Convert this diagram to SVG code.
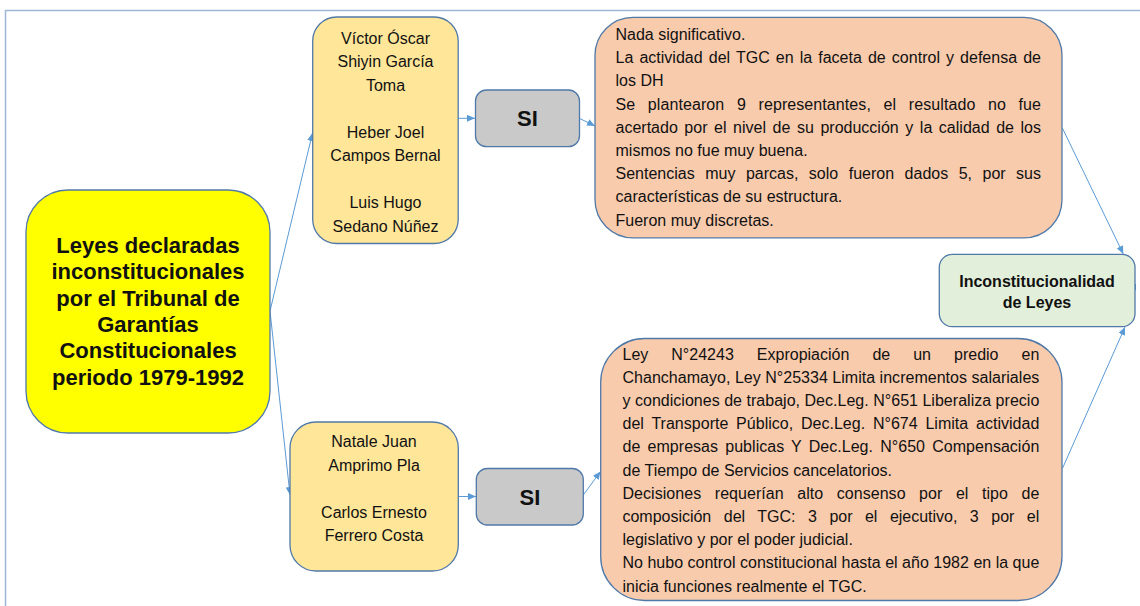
<svg xmlns="http://www.w3.org/2000/svg" width="1140" height="606" viewBox="0 0 1140 606">
<style>
.frame{fill:none;stroke:#9bb7d4;stroke-width:1.5}
.box{stroke:#5079a8;stroke-width:1.3}
.yellow{fill:#ffff00}
.gold{fill:#ffe699}
.grey{fill:#c9c9c9}
.peach{fill:#f8cbad}
.green{fill:#e2efda}
.t{font-family:"Liberation Sans",Arial,sans-serif;font-size:16px;fill:#111}
.c{text-anchor:middle}
.b{font-weight:bold}
.big{font-size:22px}
.conn{fill:none;stroke:#5b9bd5;stroke-width:1}
</style>
<defs>
<marker id="arr" markerUnits="userSpaceOnUse" markerWidth="8" markerHeight="7" refX="8" refY="3.5" orient="auto">
<path d="M0,0 L8,3.5 L0,7 z" fill="#5b9bd5"/>
</marker>
</defs>
<rect width="1140" height="606" fill="#ffffff"/>
<path class="frame" d="M5.5,606 L5.5,10.5 L1140,10.5"/>

<g id="connectors">
<path class="conn" marker-end="url(#arr)" d="M270,311 L312.5,133"/>
<path class="conn" marker-end="url(#arr)" d="M270,311 L290,495"/>
<path class="conn" marker-end="url(#arr)" d="M458,118.3 L475,118.3"/>
<path class="conn" marker-end="url(#arr)" d="M579.3,118.3 L595,126"/>
<path class="conn" marker-end="url(#arr)" d="M458,496.5 L476,496.5"/>
<path class="conn" marker-end="url(#arr)" d="M583.3,495 L600.5,471.5"/>
<path class="conn" marker-end="url(#arr)" d="M1062.5,128.3 L1123.3,254"/>
<path class="conn" marker-end="url(#arr)" d="M1062.5,468.3 L1125,327"/>
<path class="conn" marker-end="url(#arr)" d="M1136,287 L1128,287"/>
</g>

<g id="n-main">
<rect class="box yellow" x="26" y="190" width="244" height="243" rx="42" ry="42"/>
<text class="t b big c" x="148" y="253">Leyes declaradas</text>
<text class="t b big c" x="148" y="279.3">inconstitucionales</text>
<text class="t b big c" x="148" y="305.6">por el Tribunal de</text>
<text class="t b big c" x="148" y="331.9">Garantías</text>
<text class="t b big c" x="148" y="358.2">Constitucionales</text>
<text class="t b big c" x="148" y="384.5">periodo 1979-1992</text>
</g>

<g id="n-names1">
<rect class="box gold" x="312.7" y="17" width="145.5" height="226.5" rx="24" ry="24"/>
<text class="t c" x="385.5" y="43.5">Víctor Óscar</text>
<text class="t c" x="385.5" y="67">Shiyin García</text>
<text class="t c" x="385.5" y="90.5">Toma</text>
<text class="t c" x="385.5" y="137.5">Heber Joel</text>
<text class="t c" x="385.5" y="161">Campos Bernal</text>
<text class="t c" x="385.5" y="208">Luis Hugo</text>
<text class="t c" x="385.5" y="231.5">Sedano Núñez</text>
</g>

<g id="n-si1">
<rect class="box grey" x="475.5" y="90" width="104" height="56.7" rx="11" ry="11"/>
<text class="t b big c" x="527.5" y="126.2">SI</text>
</g>

<g id="n-res1">
<rect class="box peach" x="595" y="17.3" width="467" height="220.5" rx="38" ry="38"/>
<text class="t" x="615.5" y="40">Nada significativo.</text>
<text class="t" x="615.5" y="63.2" word-spacing="1.6" textLength="425.5" lengthAdjust="spacing">La actividad del TGC en la faceta de control y defensa de</text>
<text class="t" x="615.5" y="86.4">los DH</text>
<text class="t" x="615.5" y="109.6" word-spacing="8.1" textLength="425.5" lengthAdjust="spacing">Se plantearon 9 representantes, el resultado no fue</text>
<text class="t" x="615.5" y="132.8" word-spacing="2.1" textLength="425.5" lengthAdjust="spacing">acertado por el nivel de su producción y la calidad de los</text>
<text class="t" x="615.5" y="156">mismos no fue muy buena.</text>
<text class="t" x="615.5" y="179.2" word-spacing="6" textLength="425.5" lengthAdjust="spacing">Sentencias muy parcas, solo fueron dados 5, por sus</text>
<text class="t" x="615.5" y="202.4">características de su estructura.</text>
<text class="t" x="615.5" y="225.6">Fueron muy discretas.</text>
</g>

<g id="n-result">
<rect class="box green" x="939.3" y="254.3" width="195.7" height="72.4" rx="13" ry="13"/>
<text class="t b c" x="1037" y="286.5">Inconstitucionalidad</text>
<text class="t b c" x="1037" y="308">de Leyes</text>
</g>

<g id="n-names2">
<rect class="box gold" x="290" y="422" width="168.3" height="149" rx="26" ry="26"/>
<text class="t c" x="374" y="447.3">Natale Juan</text>
<text class="t c" x="374" y="470.7">Amprimo Pla</text>
<text class="t c" x="374" y="517.5">Carlos Ernesto</text>
<text class="t c" x="374" y="540.9">Ferrero Costa</text>
</g>

<g id="n-si2">
<rect class="box grey" x="476.3" y="468.5" width="107" height="56.5" rx="11" ry="11"/>
<text class="t b big c" x="530" y="504.5">SI</text>
</g>

<g id="n-res2">
<rect class="box peach" x="600.7" y="338.5" width="461.3" height="262" rx="44" ry="44"/>
<text class="t" x="622.5" y="359.5" word-spacing="18.5" textLength="416.8" lengthAdjust="spacing">Ley N°24243 Expropiación de un predio en</text>
<text class="t" x="622.5" y="382.7" textLength="416.8" lengthAdjust="spacing">Chanchamayo, Ley N°25334 Limita incrementos salariales</text>
<text class="t" x="622.5" y="405.9" textLength="416.8" lengthAdjust="spacing">y condiciones de trabajo, Dec.Leg. N°651 Liberaliza precio</text>
<text class="t" x="622.5" y="429.1" word-spacing="3.3" textLength="416.8" lengthAdjust="spacing">del Transporte Público, Dec.Leg. N°674 Limita actividad</text>
<text class="t" x="622.5" y="452.3" word-spacing="2.7" textLength="416.8" lengthAdjust="spacing">de empresas publicas Y Dec.Leg. N°650 Compensación</text>
<text class="t" x="622.5" y="475.5">de Tiempo de Servicios cancelatorios.</text>
<text class="t" x="622.5" y="498.7" word-spacing="9" textLength="416.8" lengthAdjust="spacing">Decisiones requerían alto consenso por el tipo de</text>
<text class="t" x="622.5" y="521.9" word-spacing="8.1" textLength="416.8" lengthAdjust="spacing">composición del TGC: 3 por el ejecutivo, 3 por el</text>
<text class="t" x="622.5" y="545.1">legislativo y por el poder judicial.</text>
<text class="t" x="622.5" y="568.3" textLength="416.8" lengthAdjust="spacing">No hubo control constitucional hasta el año 1982 en la que</text>
<text class="t" x="622.5" y="591.5">inicia funciones realmente el TGC.</text>
</g>
</svg>
